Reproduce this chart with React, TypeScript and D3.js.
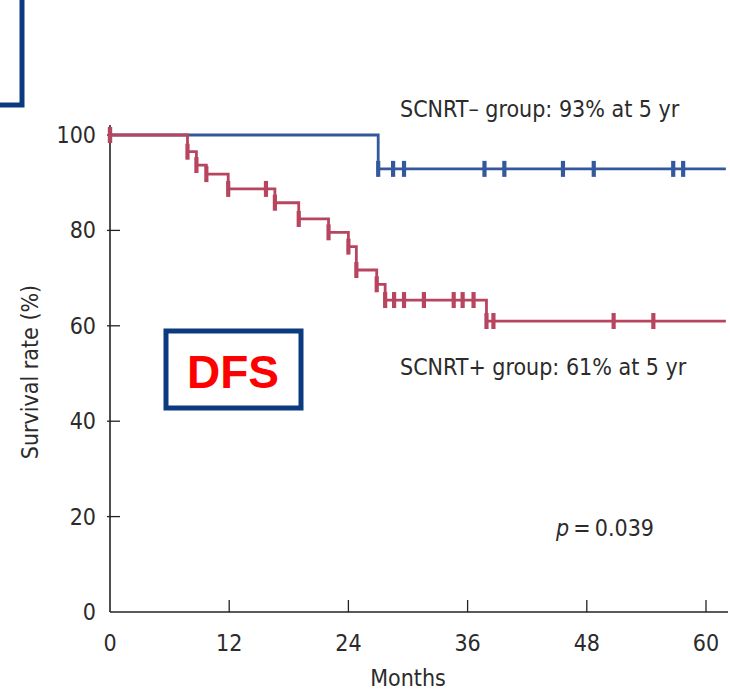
import React from "react";
import * as d3 from "d3";

// Kaplan–Meier disease-free survival, SCNRT− vs SCNRT+ groups
const monthTicks = [0, 12, 24, 36, 48, 60];
const rateTicks = [0, 20, 40, 60, 80, 100];
const followUpEnd = 62;

// SCNRT− group
const negEventMonths = [27.0];
const negSurvival = [92.9];
const negCensorMonths = [0, 28.5, 29.6, 37.7, 39.7, 45.6, 48.7, 56.7, 57.7];

// SCNRT+ group
const posEventMonths = [7.8, 8.7, 9.7, 11.9, 16.6, 19.0, 22.0, 24.0, 24.8, 26.85, 27.7, 37.9];
const posSurvival = [96.5, 93.7, 91.8, 88.7, 85.8, 82.4, 79.6, 76.6, 71.7, 68.7, 65.4, 61.0];
const posCensorMonths = [0, 15.7, 28.6, 29.6, 31.6, 34.6, 35.5, 36.6, 38.6, 50.7, 54.7];

const annotations = {
  neg: "SCNRT\u2013 group: 93% at 5 yr",
  pos: "SCNRT+ group: 61% at 5 yr",
  pValue: "0.039",
};

const W = 730;
const H = 692;
const BLUE = "#34589c";
const RED = "#b7455f";
const NAVY = "#0b3a80";
const INK = "#2b2b2b";
const FONT = "'Liberation Sans Narrow', 'Arial Narrow', 'DejaVu Sans Condensed', sans-serif";

const x = d3.scaleLinear().domain([0, 60]).range([110, 706]);
const y = d3.scaleLinear().domain([0, 100]).range([612, 135]);

type Pt = [number, number];

function stepPoints(events: number[], surv: number[]): Pt[] {
  const pts: Pt[] = [[0, 100]];
  events.forEach((t, i) => pts.push([t, surv[i]]));
  pts.push([followUpEnd, surv[surv.length - 1]]);
  return pts;
}

function survivalAt(t: number, events: number[], surv: number[]): number {
  let s = 100;
  events.forEach((e, i) => {
    if (e <= t) s = surv[i];
  });
  return s;
}

const stepLine = d3
  .line<Pt>()
  .x((d) => x(d[0]))
  .y((d) => y(d[1]))
  .curve(d3.curveStepAfter);

function Curve({ events, surv, censors, color }: { events: number[]; surv: number[]; censors: number[]; color: string }) {
  const tickTimes = [...censors, ...events];
  return (
    <g>
      <path d={stepLine(stepPoints(events, surv)) || ""} fill="none" stroke={color} strokeWidth={2.8} />
      {tickTimes.map((t, i) => {
        const s = survivalAt(t, events, surv);
        return (
          <line key={i} x1={x(t)} x2={x(t)} y1={y(s) - 8} y2={y(s) + 8} stroke={color} strokeWidth={4.2} />
        );
      })}
    </g>
  );
}

export default function App() {
  return (
    <svg width={W} height={H} style={{ position: "absolute", left: 0, top: 0, background: "#fff" }} fontFamily={FONT}>
      <rect x={0} y={0} width={W} height={H} fill="#fff" />

      {/* framed panel corner */}
      <rect x={-20} y={-20} width={42} height={125} fill="none" stroke={NAVY} strokeWidth={5} />

      {/* axes */}
      <line x1={x(0)} x2={728} y1={y(0)} y2={y(0)} stroke="#222" strokeWidth={1.6} />
      <line x1={x(0)} x2={x(0)} y1={y(0)} y2={125} stroke="#222" strokeWidth={1.6} />
      {monthTicks.map((m) => (
        <g key={m}>
          {m > 0 && <line x1={x(m)} x2={x(m)} y1={y(0)} y2={y(0) - 12} stroke="#222" strokeWidth={1.3} />}
          <text x={x(m)} y={651} textAnchor="middle" fontSize={23} fill={INK}>
            {m}
          </text>
        </g>
      ))}
      {rateTicks.map((r) => (
        <g key={r}>
          {r > 0 && <line x1={x(0) - 3} x2={x(0) + 10} y1={y(r)} y2={y(r)} stroke="#222" strokeWidth={1.3} />}
          <text x={96} y={y(r) + 8} textAnchor="end" fontSize={23} fill={INK}>
            {r}
          </text>
        </g>
      ))}
      <text x={408} y={686} textAnchor="middle" fontSize={23} fill={INK}>
        Months
      </text>
      <text transform="translate(38,372) rotate(-90)" textAnchor="middle" fontSize={23} fill={INK}>
        Survival rate (%)
      </text>

      {/* survival curves */}
      <Curve events={negEventMonths} surv={negSurvival} censors={negCensorMonths} color={BLUE} />
      <Curve events={posEventMonths} surv={posSurvival} censors={posCensorMonths} color={RED} />

      {/* annotations */}
      <text x={400} y={117} fontSize={23} fill={INK}>
        {annotations.neg}
      </text>
      <text x={400} y={375} fontSize={23} fill={INK}>
        {annotations.pos}
      </text>
      <text x={556} y={536} fontSize={23} fill={INK}>
        <tspan fontStyle="italic">p</tspan>
        <tspan>{"\u2009=\u2009" + annotations.pValue}</tspan>
      </text>

      {/* DFS label box */}
      <rect x={166} y={331} width={135} height={77} fill="#fff" stroke={NAVY} strokeWidth={5} />
      <text
        x={233}
        y={388}
        textAnchor="middle"
        fontSize={46}
        fontWeight="bold"
        fill="#ff0000"
        fontFamily="'Liberation Sans', Arial, sans-serif"
      >
        DFS
      </text>
    </svg>
  );
}
